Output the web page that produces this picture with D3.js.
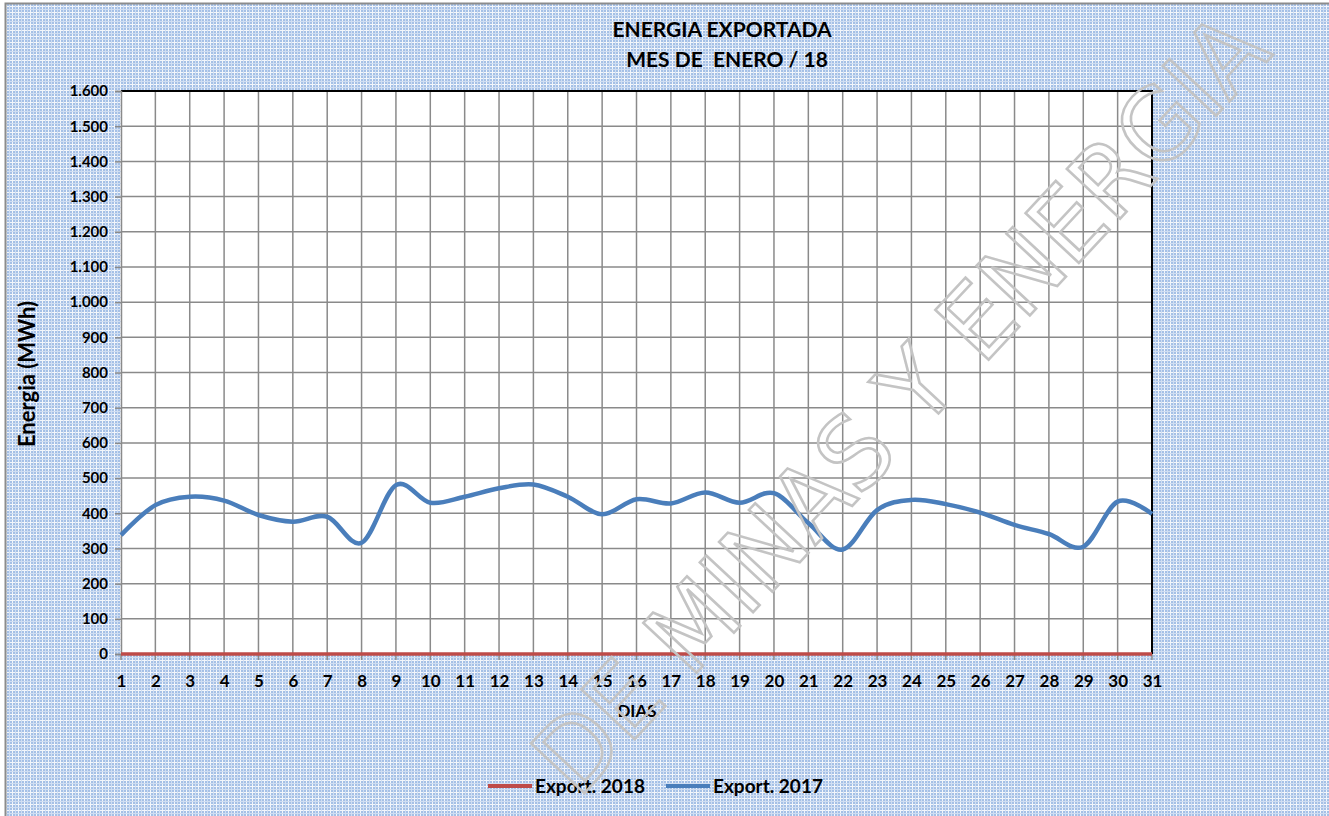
<!DOCTYPE html>
<html>
<head>
<meta charset="utf-8">
<script src="https://cdn.jsdelivr.net/npm/d3@7"></script>
<style>
  body { margin: 0; background: #fff; }
  text { font-family: Lato, "Open Sans", sans-serif; font-weight: 700; fill: #000; }
</style>
</head>
<body>
<svg id="chart" width="1329" height="816"></svg>
<script>
// data
var days = d3.range(1, 32);
var export2018 = [0,0,0,0,0,0,0,0,0,0,0,0,0,0,0,0,0,0,0,0,0,0,0,0,0,0,0,0,0,0,0];
var export2017 = [338,423,447,436,395,376,390,316,480,430,447,471,482,447,397,440,428,459,430,457,372,297,409,438,426,402,367,341,305,433,398];
var yTicks = d3.range(0, 1601, 100);
var titleLines = ["ENERGIA EXPORTADA", "MES DE  ENERO / 18"];

var svg = d3.select("#chart");
var W = 1329, H = 816;
var margin = {left: 121, right: 1152, top: 91, bottom: 654};

// background pattern (blue hatch like the excel fill)
var defs = svg.append("defs");
var pat = defs.append("pattern")
    .attr("id", "bgpat")
    .attr("width", 6).attr("height", 6)
    .attr("patternUnits", "userSpaceOnUse");
pat.append("rect").attr("width", 6).attr("height", 6).attr("fill", "#a5c0e6");
pat.append("rect").attr("x", 0).attr("y", 0).attr("width", 6).attr("height", 1).attr("fill", "#f3f6fb");
pat.append("rect").attr("x", 0).attr("y", 0).attr("width", 1).attr("height", 6).attr("fill", "#f3f6fb");
pat.append("rect").attr("x", 3).attr("y", 0).attr("width", 1).attr("height", 6).attr("fill", "#d0def2");
pat.append("rect").attr("x", 0).attr("y", 3).attr("width", 6).attr("height", 1).attr("fill", "#d0def2");

svg.append("rect")
    .attr("x", 5.5).attr("y", 3.5)
    .attr("width", W).attr("height", H)
    .attr("fill", "url(#bgpat)")
    .attr("stroke", "#8c8c8c")
    .attr("stroke-width", 2);

var x = d3.scaleLinear().domain([1, 31]).range([margin.left, margin.right]);
var y = d3.scaleLinear().domain([0, 1600]).range([margin.bottom, margin.top]);

// plot area
svg.append("rect")
    .attr("x", margin.left).attr("y", margin.top)
    .attr("width", margin.right - margin.left)
    .attr("height", margin.bottom - margin.top)
    .attr("fill", "#fff");

// grid
svg.append("g").selectAll("line")
    .data(yTicks.slice(1))
    .join("line")
    .attr("x1", margin.left).attr("x2", margin.right)
    .attr("y1", function(d){ return y(d); }).attr("y2", function(d){ return y(d); })
    .attr("stroke", "#8a8a8a").attr("stroke-width", 1.5);

svg.append("g").selectAll("line")
    .data(days.slice(1))
    .join("line")
    .attr("x1", function(d){ return x(d); }).attr("x2", function(d){ return x(d); })
    .attr("y1", margin.top).attr("y2", margin.bottom + 6)
    .attr("stroke", "#8a8a8a").attr("stroke-width", 1.5);

// border top/right in black
svg.append("path")
    .attr("d", "M" + margin.left + "," + margin.top + "H" + margin.right + "V" + margin.bottom)
    .attr("fill", "none").attr("stroke", "#000").attr("stroke-width", 2);

// y axis
var yAxis = d3.axisLeft(y)
    .tickValues(yTicks)
    .tickSize(6)
    .tickPadding(7)
    .tickFormat(function(d){ return d3.format(",")(d).replace(",", "."); });
var gy = svg.append("g").attr("transform", "translate(" + margin.left + ",0)").call(yAxis);
gy.select(".domain").attr("stroke", "#8a8a8a").attr("stroke-width", 1.5);
gy.selectAll(".tick line").attr("stroke", "#8a8a8a").attr("stroke-width", 1.5);
gy.selectAll(".tick text").style("font-size", "15px").attr("font-family", null);

// x axis labels
var xAxis = d3.axisBottom(x).tickValues(days).tickSize(0).tickPadding(21).tickFormat(d3.format("d"));
var gx = svg.append("g").attr("transform", "translate(0," + margin.bottom + ")").call(xAxis);
gx.select(".domain").remove();
gx.selectAll(".tick text").style("font-size", "17px").attr("font-family", null);
svg.append("line")
    .attr("x1", margin.left).attr("x2", margin.left)
    .attr("y1", margin.bottom).attr("y2", margin.bottom + 6)
    .attr("stroke", "#8a8a8a").attr("stroke-width", 1.5);

// series
var line = d3.line()
    .x(function(d, i){ return x(days[i]); })
    .y(function(d){ return y(d); })
    .curve(d3.curveCardinal.tension(0));

svg.append("path")
    .datum(export2018)
    .attr("d", line)
    .attr("fill", "none").attr("stroke", "#be4b48").attr("stroke-width", 3.5);

svg.append("path")
    .datum(export2017)
    .attr("d", line)
    .attr("fill", "none").attr("stroke", "#4a7ebb").attr("stroke-width", 4.5)
    .attr("stroke-linejoin", "round");

// titles
svg.selectAll("text.title")
    .data(titleLines)
    .join("text")
    .attr("class", "title")
    .attr("x", function(d, i){ return i == 0 ? 722 : 727; })
    .attr("y", function(d, i){ return 37 + i * 30; })
    .attr("text-anchor", "middle")
    .style("font-size", "21px")
    .style("white-space", "pre")
    .text(function(d){ return d; });

svg.append("text")
    .attr("transform", "translate(35,374) rotate(-90)")
    .attr("text-anchor", "middle")
    .style("font-size", "22px")
    .text("Energia (MWh)");

svg.append("text")
    .attr("x", 637).attr("y", 717)
    .attr("text-anchor", "middle")
    .style("font-size", "17px")
    .text("DIAS");

// legend
var legend = [
    {name: "Export. 2018", color: "#be4b48", x: 488},
    {name: "Export. 2017", color: "#4a7ebb", x: 666}
];
var lg = svg.append("g").selectAll("g").data(legend).join("g")
    .attr("transform", function(d){ return "translate(" + d.x + ",786)"; });
lg.append("line").attr("x1", 0).attr("x2", 44)
    .attr("stroke", function(d){ return d.color; }).attr("stroke-width", 4);
lg.append("text").attr("x", 47).attr("y", 7).style("font-size", "19px")
    .text(function(d){ return d.name; });

// watermark
svg.append("text")
    .attr("transform", "translate(578,800) rotate(-47)")
    .attr("textLength", 1020)
    .attr("lengthAdjust", "spacingAndGlyphs")
    .style("font-size", "100px")
    .style("font-weight", "400")
    .style("fill", "none")
    .style("stroke", "#c4c4c4")
    .style("stroke-width", 2.5)
    .style("font-family", "'DejaVu Sans Condensed', 'DejaVu Sans', sans-serif")
    .text("DE MINAS Y ENERGIA");
</script>
</body>
</html>
